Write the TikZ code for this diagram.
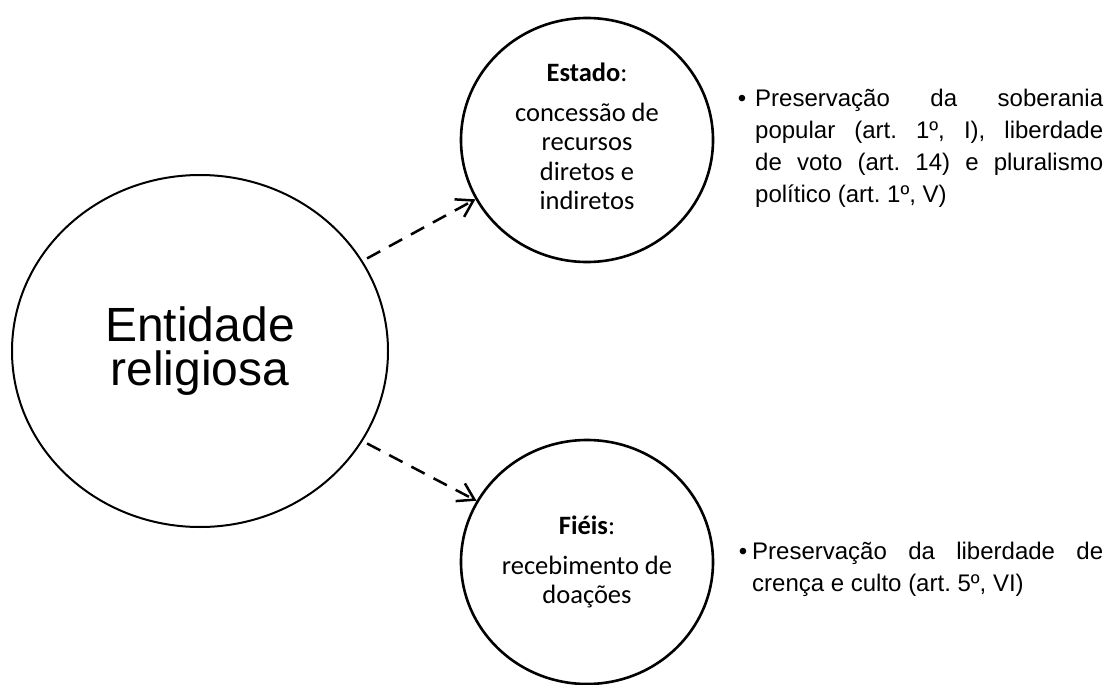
\documentclass[tikz,border=0pt]{standalone}
\usepackage{fontspec}
\setmainfont{Liberation Sans}
\newfontfamily\calibri{Carlito}
\usetikzlibrary{shapes.geometric,arrows.meta}
\tolerance=10000
\hbadness=10000
\frenchspacing
\begin{document}
\begin{tikzpicture}[x=1pt,y=-1pt,
  bigell/.style={draw, ellipse, line width=2pt, minimum width=376pt, minimum height=352pt, inner sep=0pt, align=center, font=\fontsize{48}{44}\selectfont},
  smallell/.style={draw, ellipse, line width=2.6pt, minimum width=252pt, minimum height=244pt, inner sep=0pt, align=center, font=\calibri\fontsize{26.5}{29.5}\selectfont},
  conn/.style={line width=2.5pt, dash pattern=on 15pt off 10pt, -{Straight Barb[length=16pt,width=20pt]}, shorten <=5pt},
  bullettext/.style={anchor=north west, inner sep=0pt, align=justify, font=\fontsize{24}{32}\selectfont}
]
\useasboundingbox (0,0) rectangle (1114,685);
\node[bigell] (ent) at (200,351) {Entidade\\religiosa};
\node[smallell] (estado) at (587,140) {\textbf{Estado}:\\[10.5pt]concessão de\\recursos\\diretos e\\indiretos\rule[-8pt]{0pt}{0pt}};
\node[smallell] (fieis) at (587,562) {\textbf{Fiéis}:\\[10.5pt]recebimento de\\doações};
\draw[conn] (ent.29) -- (estado.208);
\draw[conn] (ent.331) -- (fieis.151.5);
\node[bullettext, text width=348pt] (t1) at (755,89) {\llap{•\hspace{9pt}}Preservação da soberania\linebreak popular (art. 1º, I), liberdade\linebreak de voto (art. 14) e pluralismo\linebreak político (art. 1º, V)};
\node[bullettext, text width=351pt] (t2) at (752,542) {\llap{•\hspace{5pt}}Preservação da liberdade de\linebreak crença e culto (art. 5º, VI)};
\end{tikzpicture}
\end{document}
